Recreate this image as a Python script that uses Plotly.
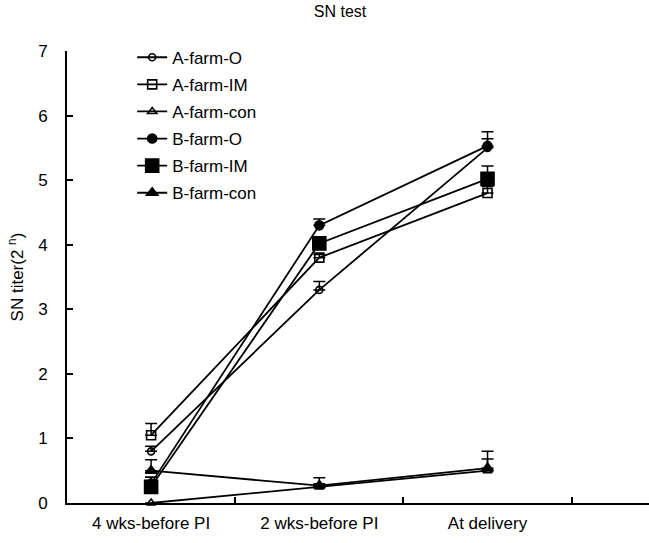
import plotly.graph_objects as go

categories = ["4 wks-before PI", "2 wks-before PI", "At delivery"]
series_names = ["A-farm-O", "A-farm-IM", "A-farm-con", "B-farm-O", "B-farm-IM", "B-farm-con"]

a_farm_o = [0.80, 3.30, 5.50]
a_farm_o_err = [0.08, 0.13, 0.14]
a_farm_im = [1.05, 3.80, 4.80]
a_farm_im_err = [0.18, 0.05, 0.10]
a_farm_con = [0.00, 0.25, 0.50]
a_farm_con_err = [0.00, 0.05, 0.18]
b_farm_o = [0.30, 4.30, 5.53]
b_farm_o_err = [0.10, 0.10, 0.22]
b_farm_im = [0.25, 4.02, 5.02]
b_farm_im_err = [0.15, 0.10, 0.20]
b_farm_con = [0.50, 0.27, 0.54]
b_farm_con_err = [0.17, 0.12, 0.26]

y_ticks = [0, 1, 2, 3, 4, 5, 6, 7]

values = [a_farm_o, a_farm_im, a_farm_con, b_farm_o, b_farm_im, b_farm_con]
errors = [a_farm_o_err, a_farm_im_err, a_farm_con_err, b_farm_o_err, b_farm_im_err, b_farm_con_err]
symbols = ["circle-open", "square-open", "triangle-up-open", "circle", "square", "triangle-up"]
sizes = [7, 9, 8, 9, 13, 10]

xpos = list(range(len(categories)))

fig = go.Figure()
for name, vals, errs, sym, sz in zip(series_names, values, errors, symbols, sizes):
    fig.add_trace(go.Scatter(
        x=xpos, y=vals, name=name, mode="lines+markers",
        legendgroup=name,
        line=dict(color="black", width=1.8),
        marker=dict(symbol=sym, size=sz, color="black",
                    line=dict(color="black", width=1.6)),
        error_y=dict(type="data", symmetric=False, array=errs,
                     arrayminus=[0] * len(errs), color="black",
                     thickness=1.5, width=6),
        cliponaxis=False,
    ))

font_family = "Liberation Sans, Arial, sans-serif"
fig.update_layout(
    width=649, height=543,
    margin=dict(l=67, r=0, t=51, b=40),
    paper_bgcolor="white", plot_bgcolor="white",
    font=dict(family=font_family, size=16, color="black"),
    title=dict(text="SN test", x=0.524, xanchor="center", y=0.99, yanchor="top",
               font=dict(size=16, family=font_family)),
    showlegend=True,
    legend=dict(x=0.112, y=1.025, xanchor="left", yanchor="top",
                bgcolor="rgba(0,0,0,0)", font=dict(size=17),
                tracegroupgap=2),
    xaxis=dict(range=[-0.5, 2.96], tickmode="array", tickvals=xpos, ticktext=categories,
               ticks="", showgrid=False, zeroline=False, showline=True,
               linecolor="black", linewidth=2, ticklabelstandoff=4,
               minor=dict(tickmode="array", tickvals=[0.5, 1.5, 2.5], ticks="inside",
                          ticklen=6, tickwidth=1.5, tickcolor="black", showgrid=False),
               tickfont=dict(size=17)),
    yaxis=dict(range=[0, 7], tickmode="array", tickvals=y_ticks,
               ticks="inside", ticklen=6, tickwidth=1.5, tickcolor="black",
               showgrid=False, zeroline=False, showline=True,
               linecolor="black", linewidth=2, ticklabelstandoff=14,
               title=dict(text="SN titer(2 <sup>n</sup>)", standoff=10,
                          font=dict(size=17)),
               tickfont=dict(size=17)),
)

fig.write_html("out.html")
